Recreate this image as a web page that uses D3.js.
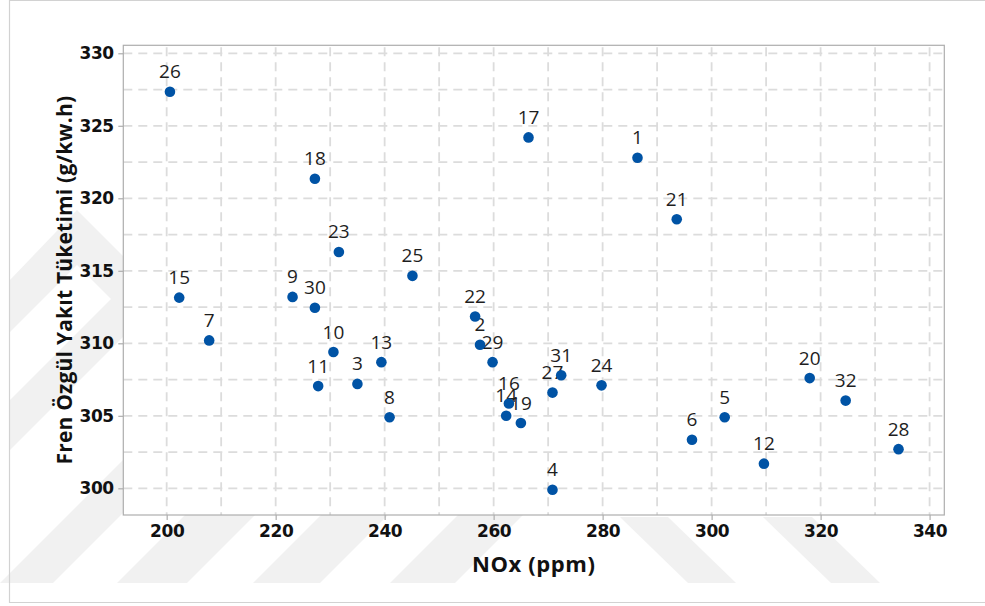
<!DOCTYPE html>
<html>
<head>
<meta charset="utf-8">
<script src="https://cdn.jsdelivr.net/npm/d3@7"></script>
<style>
  html, body { margin: 0; padding: 0; background: #fff; }
  svg { display: block; }
</style>
</head>
<body>
<svg id="chart" width="985" height="606"></svg>
<script>
// Run numbers and measured values (NOx vs. brake specific fuel consumption)
const runIds = [1, 2, 3, 4, 5, 6, 7, 8, 9, 10, 11, 12, 13, 14, 15, 16,
                17, 18, 19, 20, 21, 22, 23, 24, 25, 26, 27, 28, 29, 30, 31, 32];
const noxPpm = [286.4, 257.5, 235.0, 270.8, 302.4, 296.4, 207.8, 240.9,
                223.1, 230.6, 227.8, 309.6, 239.4, 262.3, 202.3, 262.8,
                266.4, 227.2, 265.0, 318.0, 293.6, 256.6, 231.6, 279.8,
                245.1, 200.6, 270.8, 334.3, 259.8, 227.2, 272.4, 324.6];
const bsfc = [322.8, 309.9, 307.2, 299.9, 304.9, 303.35, 310.2, 304.9,
              313.2, 309.4, 307.05, 301.7, 308.7, 305.0, 313.15, 305.85,
              324.2, 321.35, 304.5, 307.6, 318.55, 311.85, 316.3, 307.1,
              314.65, 327.35, 306.6, 302.7, 308.7, 312.45, 307.8, 306.05];

const xTickValues = [200, 220, 240, 260, 280, 300, 320, 340];
const yTickValues = [300, 305, 310, 315, 320, 325, 330];
const xGridValues = [200, 210, 220, 230, 240, 250, 260, 270, 280, 290, 300, 310, 320, 330, 340];
const yGridValues = [300, 302.5, 305, 307.5, 310, 312.5, 315, 317.5, 320, 322.5, 325, 327.5, 330];

const xTitle = "NOx (ppm)";
const yTitle = "Fren Özgül Yakıt Tüketimi (g/kw.h)";

const W = 985, H = 606;
const plot = { left: 123.3, top: 45.3, right: 944.3, bottom: 515 };

const svg = d3.select("#chart");

const x = d3.scaleLinear().domain([192.04, 342.7]).range([plot.left, plot.right]);
const y = d3.scaleLinear().domain([298.16, 330.55]).range([plot.bottom, plot.top]);

// faint diagonal background bands
const bg = svg.append("g").attr("fill", "#f1f1f1");
const bandPolys = [
  // bands rising to the right along the bottom-left
  [[0, 583], [53, 583], [186, 450], [133, 450]],
  [[117, 583], [187, 583], [320, 450], [250, 450]],
  [[253, 583], [320, 583], [453, 450], [386, 450]],
  [[390, 583], [455, 583], [588, 450], [523, 450]],
  // bands falling to the right along the bottom-right
  [[620, 517], [668, 517], [736, 583], [688, 583]],
  [[763, 517], [812, 517], [880, 583], [831, 583]],
  // left margin shapes
  [[10, 280], [77, 210], [130, 263], [130, 318], [77, 265], [10, 332]],
  [[10, 400], [130, 280], [130, 330], [10, 450]]
];
bg.selectAll("polygon").data(bandPolys).join("polygon")
  .attr("points", d => d.map(p => p.join(",")).join(" "));

// outer border
svg.append("path")
  .attr("d", `M${W + 2},0.5 H9.5 V602.5 H${W + 2}`)
  .attr("fill", "none").attr("stroke", "#d2d2d2").attr("stroke-width", 1.2);

// plot background
svg.append("rect")
  .attr("x", plot.left).attr("y", plot.top)
  .attr("width", plot.right - plot.left).attr("height", plot.bottom - plot.top)
  .attr("fill", "#fff");

// dashed grid
const grid = svg.append("g")
  .attr("stroke", "#dcdcdc").attr("stroke-width", 1.8)
  .attr("stroke-dasharray", "9,6");
grid.selectAll("line.v").data(xGridValues).join("line")
  .attr("class", "v")
  .attr("x1", d => x(d)).attr("x2", d => x(d))
  .attr("y1", plot.top + 2).attr("y2", plot.bottom);
grid.selectAll("line.h").data(yGridValues).join("line")
  .attr("class", "h")
  .attr("y1", d => y(d)).attr("y2", d => y(d))
  .attr("x1", plot.left).attr("x2", plot.right - 1);

// plot frame
svg.append("rect")
  .attr("x", plot.left).attr("y", plot.top)
  .attr("width", plot.right - plot.left).attr("height", plot.bottom - plot.top)
  .attr("fill", "none").attr("stroke", "#adadad").attr("stroke-width", 1.2);

// axes
const tickFont = (g) => {
  g.select(".domain").remove();
  g.selectAll(".tick line").attr("stroke", "#adadad").attr("stroke-width", 1.2);
  g.selectAll(".tick text")
    .attr("fill", "#111")
    .style("font-family", "'DejaVu Sans', sans-serif")
    .style("font-weight", "bold")
    .style("font-size", "17px")
    .style("letter-spacing", "-0.4px");
};

svg.append("g")
  .attr("transform", `translate(0,${plot.bottom})`)
  .call(d3.axisBottom(x).tickValues(xTickValues).tickSize(5).tickPadding(5).tickFormat(d3.format("d")))
  .call(tickFont);

svg.append("g")
  .attr("transform", `translate(${plot.left},0)`)
  .call(d3.axisLeft(y).tickValues(yTickValues).tickSize(5).tickPadding(4.5).tickFormat(d3.format("d")))
  .call(tickFont);

// axis titles
svg.append("text")
  .attr("x", (plot.left + plot.right) / 2).attr("y", 572)
  .attr("text-anchor", "middle")
  .style("font-family", "'Open Sans', sans-serif")
  .style("font-weight", "bold").style("font-size", "22px")
  .style("letter-spacing", "0.6px")
  .attr("fill", "#111")
  .text(xTitle);

svg.append("text")
  .attr("transform", `translate(72,${(plot.top + plot.bottom) / 2}) rotate(-90)`)
  .attr("text-anchor", "middle")
  .style("font-family", "'Open Sans', sans-serif")
  .style("font-weight", "bold").style("font-size", "21px")
  .style("letter-spacing", "0.2px")
  .attr("fill", "#111")
  .text(yTitle);

// points with run-number labels
const pts = runIds.map((id, i) => ({ id, nox: noxPpm[i], bsfc: bsfc[i] }));

svg.append("g").selectAll("text").data(pts).join("text")
  .attr("x", d => x(d.nox)).attr("y", d => y(d.bsfc) - 13.5)
  .attr("text-anchor", "middle")
  .style("font-family", "'Open Sans', sans-serif")
  .style("font-size", "19px")
  .attr("fill", "#1e1e1e")
  .text(d => d.id);

svg.append("g").selectAll("circle").data(pts).join("circle")
  .attr("cx", d => x(d.nox)).attr("cy", d => y(d.bsfc))
  .attr("r", 5.3)
  .attr("fill", "#0053a5");
</script>
</body>
</html>
